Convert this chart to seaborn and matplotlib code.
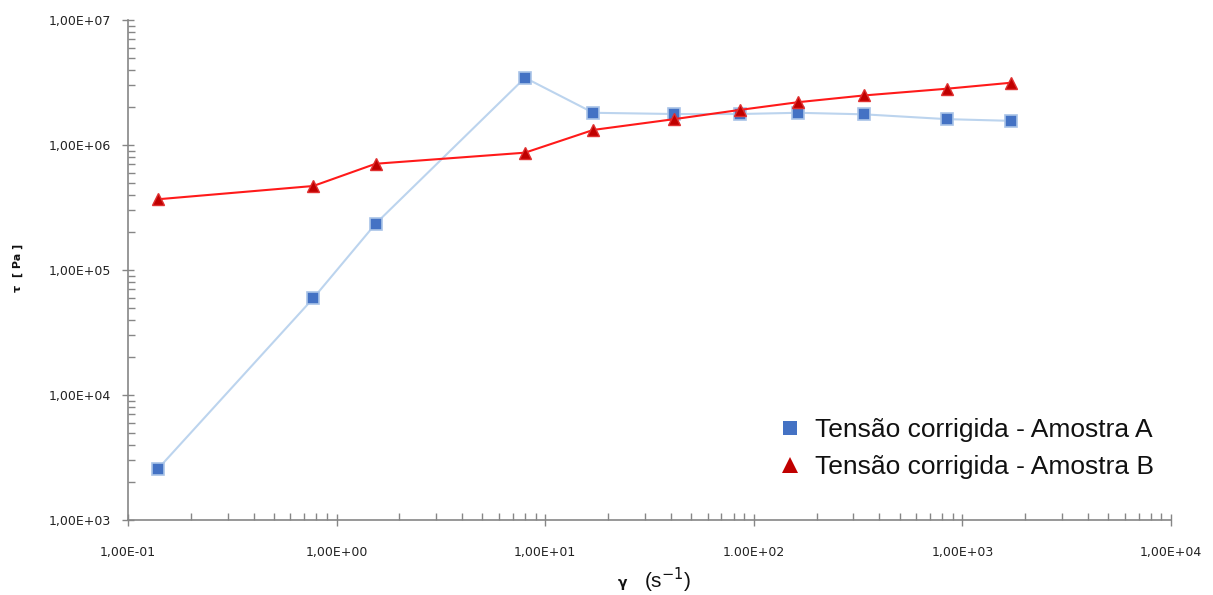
import pandas as pd
import matplotlib
matplotlib.use("Agg")
import matplotlib.pyplot as plt
import seaborn as sns
from matplotlib.ticker import LogLocator, NullFormatter, FixedLocator, FixedFormatter

sns.set_style("white")
plt.rcParams['font.family'] = ['DejaVu Sans']

# data
shear_rate_a = [0.139, 0.773, 1.54, 8.0, 17.0, 41.5, 86, 163, 336, 843, 1715]
stress_a = [2560, 59400, 2.35e5, 3.45e6, 1.81e6, 1.77e6, 1.77e6, 1.81e6, 1.76e6, 1.61e6, 1.56e6]
shear_rate_b = [0.139, 0.773, 1.54, 8.0, 17.0, 41.5, 86, 163, 336, 843, 1715]
stress_b = [3.68e5, 4.70e5, 7.08e5, 8.68e5, 1.32e6, 1.61e6, 1.91e6, 2.20e6, 2.49e6, 2.82e6, 3.15e6]

label_a = "Tensão corrigida - Amostra A"
label_b = "Tensão corrigida - Amostra B"

x_ticks = [1e-1, 1e0, 1e1, 1e2, 1e3, 1e4]
x_ticklabels = ["1,00E-01", "1,00E+00", "1,00E+01", "1.00E+02", "1,00E+03", "1,00E+04"]
y_ticks = [1e3, 1e4, 1e5, 1e6, 1e7]
y_ticklabels = ["1,00E+03", "1,00E+04", "1,00E+05", "1,00E+06", "1,00E+07"]

df_a = pd.DataFrame({"rate": shear_rate_a, "stress": stress_a})
df_b = pd.DataFrame({"rate": shear_rate_b, "stress": stress_b})

fig = plt.figure(figsize=(12.13, 5.95), dpi=100)
ax = fig.add_axes([128 / 1213, 1 - 520 / 595, (1171 - 128) / 1213, 500 / 595])

sns.lineplot(data=df_a, x="rate", y="stress", ax=ax, color="#bcd4ee", linewidth=1.5,
             marker="s", markersize=8, markerfacecolor="#4472c4", markeredgecolor="#a9c4e8",
             markeredgewidth=1.2, label=label_a, sort=False, estimator=None)
sns.lineplot(data=df_b, x="rate", y="stress", ax=ax, color="#ff1a1a", linewidth=1.5,
             marker="^", markersize=9, markerfacecolor="#c00000", markeredgecolor="#e03030",
             markeredgewidth=1.0, label=label_b, sort=False, estimator=None)

ax.set_xscale("log")
ax.set_yscale("log")
ax.set_xlim(1e-1, 1e4)
ax.set_ylim(1e3, 1e7)

ax.xaxis.set_major_locator(FixedLocator(x_ticks))
ax.xaxis.set_major_formatter(FixedFormatter(x_ticklabels))
ax.yaxis.set_major_locator(FixedLocator(y_ticks))
ax.yaxis.set_major_formatter(FixedFormatter(y_ticklabels))
ax.xaxis.set_minor_locator(LogLocator(base=10, subs=range(2, 10), numticks=20))
ax.yaxis.set_minor_locator(LogLocator(base=10, subs=range(2, 10), numticks=20))
ax.xaxis.set_minor_formatter(NullFormatter())
ax.yaxis.set_minor_formatter(NullFormatter())

for side in ["top", "right"]:
    ax.spines[side].set_visible(False)
for side in ["left", "bottom"]:
    ax.spines[side].set_color("#868686")
    ax.spines[side].set_linewidth(1.2)

ax.tick_params(which="major", direction="inout", length=9, width=1, color="#868686",
               labelsize=9, labelcolor="#222222")
ax.tick_params(which="minor", direction="in", length=5, width=1, color="#868686")
ax.tick_params(axis="x", which="major", pad=14)
ax.tick_params(axis="y", which="major", pad=8)
ax.tick_params(left=True, bottom=True, which="both")

ax.set_xlabel("")
ax.set_ylabel("")
ax.grid(False)

fig.text(18 / 1213, 1 - 268 / 595, "τ  [ Pa ]", rotation=90, ha="center", va="center",
         fontsize=8, fontweight="bold", color="#111111")
fig.text(622 / 1213, 1 - 583 / 595, "γ", ha="center", va="center",
         fontsize=10, fontweight="bold", color="#111111")
fig.text(668 / 1213, 1 - 580 / 595, "(s$^{-1}$)", ha="center", va="center",
         fontsize=15, color="#111111", family=["Liberation Sans", "DejaVu Sans"])

ax.legend(loc="lower right", bbox_to_anchor=((1165 - 128) / 1043, (520 - 490) / 500),
          frameon=False, prop={"family": "Liberation Sans", "size": 19},
          handlelength=1.0, handletextpad=0.45, labelspacing=0.5, borderaxespad=0,
          markerscale=1.3)
leg = ax.get_legend()
for line in leg.get_lines():
    line.set_linestyle("None")
    line.set_markeredgewidth(0)
for t in leg.get_texts():
    t.set_color("#111111")

fig.savefig("out.png", dpi=100)
